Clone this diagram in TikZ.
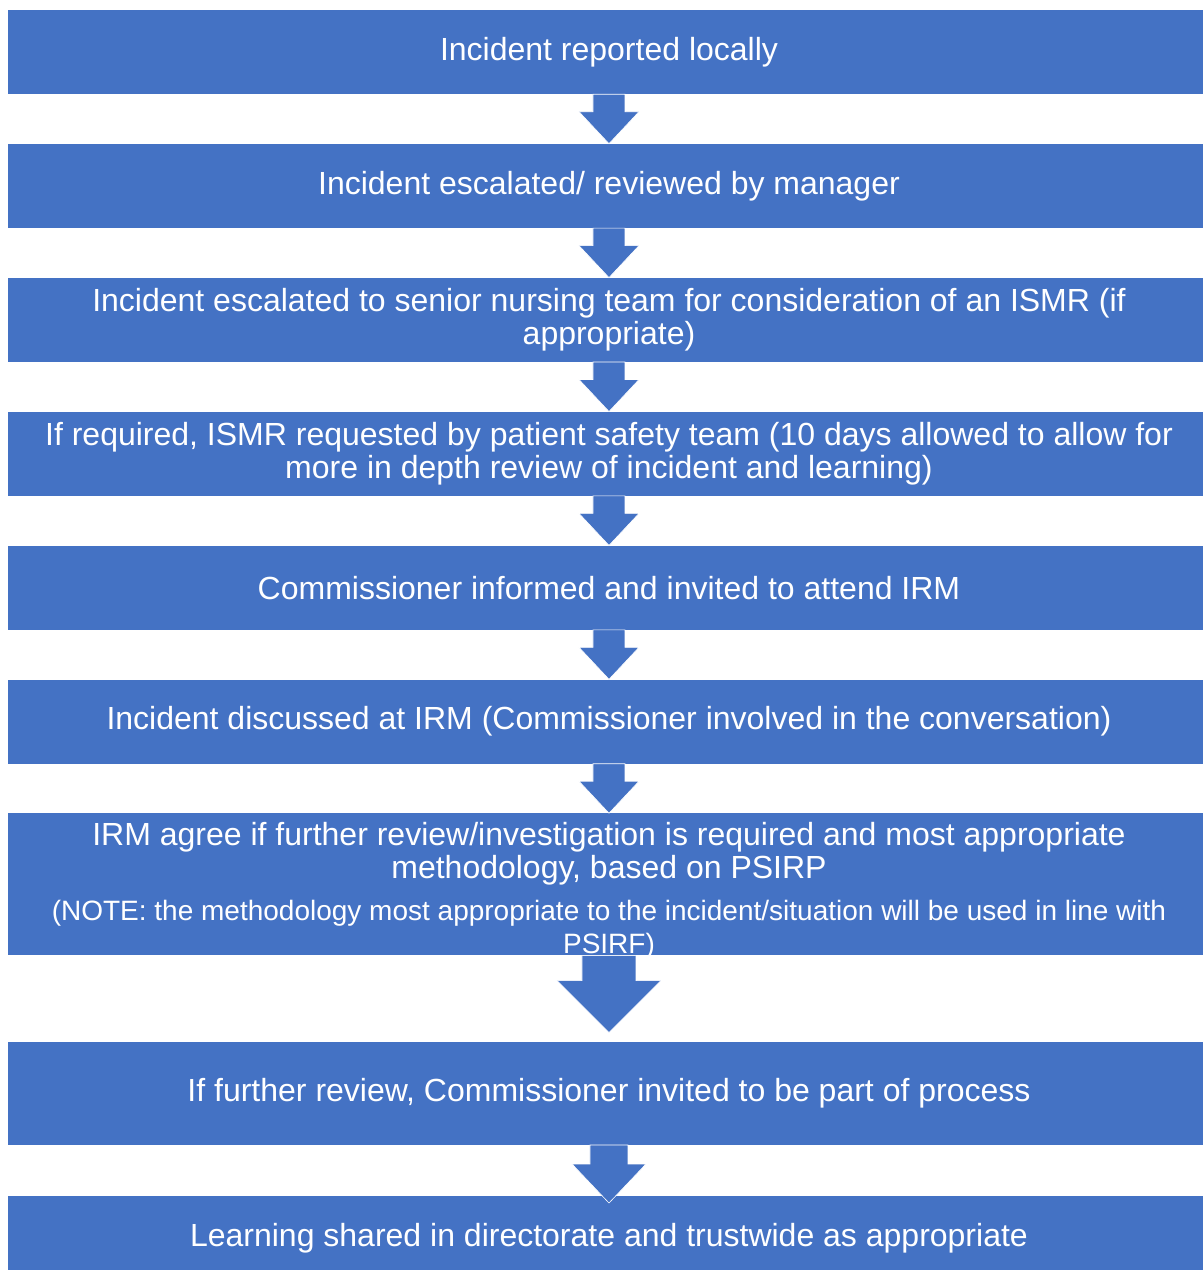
\documentclass[tikz,border=0pt]{standalone}
\usepackage{fontspec}
\setmainfont{Liberation Sans}
\usetikzlibrary{positioning,calc}

\definecolor{flowblue}{HTML}{4472C4}

\newcommand{\notefont}{\fontsize{28}{28.5}\selectfont}

% block arrow: from point, tip point, half shaft, half head, head length
\newcommand{\blockarrow}[5]{%
  \fill[flowblue, draw=white, line width=0.6pt]
    ($(#1)+(-#3,0)$) -- ($(#2)+(-#3,#5)$) -- ($(#2)+(-#4,#5)$) -- (#2)
    -- ($(#2)+(#4,#5)$) -- ($(#2)+(#3,#5)$) -- ($(#1)+(#3,0)$) -- cycle;}

\begin{document}
\begin{tikzpicture}[
    stagetext/.style={text=white, inner sep=0pt, align=center,
      font=\fontsize{32}{33}\selectfont},
    stage/.style={stagetext, fill=flowblue, minimum width=1202pt,
      minimum height=84pt},
    node distance=49.5pt
  ]

  \useasboundingbox (-609pt,52pt) rectangle (594pt,-1218pt);

  % Boxes
  \node[stage] (reported) at (0,0) {Incident reported locally};
  \node[stage, below=of reported] (manager) {Incident escalated/ reviewed by manager};
  \node[stage, below=of manager] (senior) {Incident escalated to senior nursing team for consideration of an ISMR (if\\appropriate)};
  \node[stage, below=of senior] (ismr) {If required, ISMR requested by patient safety team (10 days allowed to allow for\\more in depth review of incident and learning)};
  \node[stage, below=of ismr] (informed) {Commissioner informed and invited to attend IRM};
  \node[stage, below=of informed] (discussed) {Incident discussed at IRM (Commissioner involved in the conversation)};
  \node[stage, below=of discussed, minimum height=142pt,
    label={[stagetext, yshift=-6pt]center:{IRM agree if further review/investigation is required and most appropriate\\methodology, based on PSIRP\\[9pt]\notefont (NOTE: the methodology most appropriate to the incident/situation will be used in line with\\\notefont PSIRF)}}] (agree) {};
  \node[stage, below=86pt of agree, minimum height=103pt] (further) {If further review, Commissioner invited to be part of process};
  \node[stage, below=51pt of further] (learning) {Learning shared in directorate and trustwide as appropriate};

  % Arrows
  \blockarrow{reported.south}{manager.north}{16pt}{30pt}{32pt}
  \blockarrow{manager.south}{senior.north}{16pt}{30pt}{32pt}
  \blockarrow{senior.south}{ismr.north}{16pt}{30pt}{32pt}
  \blockarrow{ismr.south}{informed.north}{16pt}{30pt}{32pt}
  \blockarrow{informed.south}{discussed.north}{16pt}{30pt}{32pt}
  \blockarrow{discussed.south}{agree.north}{16pt}{30pt}{32pt}
  \coordinate (tipfurther) at ($(further.north)+(0,9pt)$);
  \blockarrow{agree.south}{tipfurther}{27pt}{52pt}{52pt}
  \coordinate (tiplearning) at ($(learning.north)+(0,-7pt)$);
  \blockarrow{further.south}{tiplearning}{19pt}{37pt}{39pt}

\end{tikzpicture}
\end{document}
